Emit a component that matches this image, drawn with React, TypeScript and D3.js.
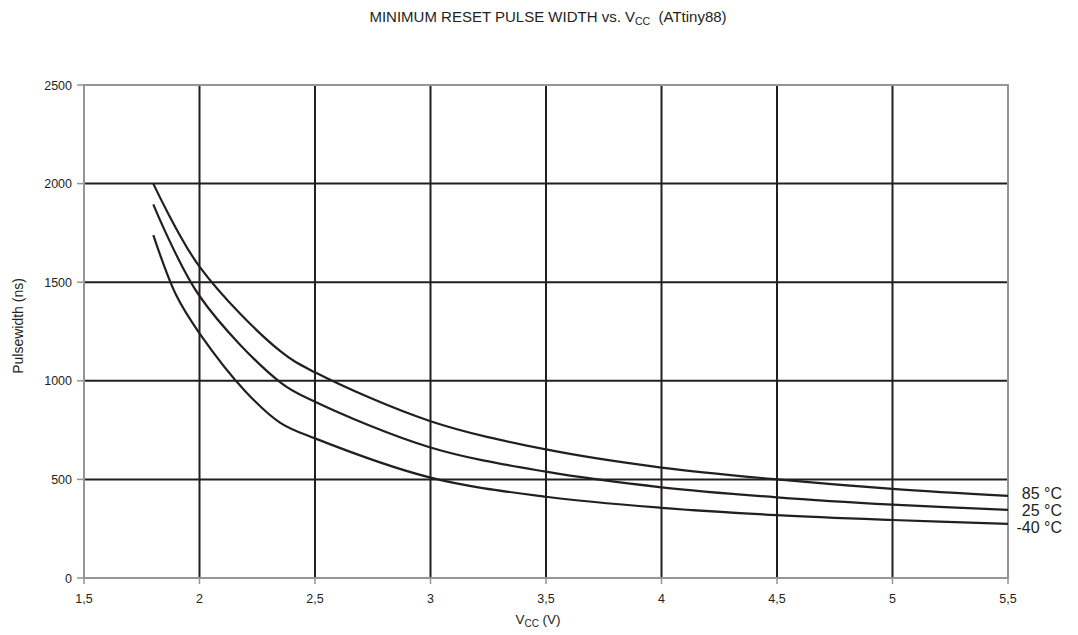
import React from "react";
import * as d3 from "d3";

const xTicks = [1.5, 2, 2.5, 3, 3.5, 4, 4.5, 5, 5.5];
const yTicks = [0, 500, 1000, 1500, 2000, 2500];

const vcc85 = [1.8, 2.0, 2.35, 2.5, 3.0, 3.5, 4.0, 4.5, 5.0, 5.5];
const pw85 = [2000, 1579, 1150, 1043, 795, 652, 560, 500, 452, 416];

const vcc25 = [1.8, 2.0, 2.35, 2.5, 3.0, 3.5, 4.0, 4.5, 5.0, 5.5];
const pw25 = [1895, 1430, 992, 894, 662, 539, 460, 409, 372, 345];

const vccM40 = [1.8, 1.9, 2.0, 2.2, 2.35, 2.5, 3.0, 3.5, 4.0, 4.5, 5.0, 5.5];
const pwM40 = [1739, 1432, 1241, 945, 787, 708, 509, 412, 356, 319, 294, 274];

const seriesNames = ["85 °C", "25 °C", "-40 °C"];

export default function App() {
  const W = 1078, H = 635;
  const x = d3.scaleLinear().domain([1.5, 5.5]).range([84, 1008]);
  const y = d3.scaleLinear().domain([0, 2500]).range([578, 85]);
  const line = d3.line<[number, number]>().x(d => x(d[0])).y(d => y(d[1])).curve(d3.curveCatmullRom.alpha(0.5));
  const series = [
    vcc85.map((v, i) => [v, pw85[i]] as [number, number]),
    vcc25.map((v, i) => [v, pw25[i]] as [number, number]),
    vccM40.map((v, i) => [v, pwM40[i]] as [number, number]),
  ];
  const labelY = [499, 516, 533];
  const dark = "#231f20";
  const frame = "#939598";
  const font = "'Liberation Sans', Arial, sans-serif";
  return (
    <svg width={W} height={H} style={{ position: "absolute", left: 0, top: 0, background: "#fff" }} fontFamily={font}>
      <text x={548} y={22} textAnchor="middle" fontSize={15} fill={dark}>
        MINIMUM RESET PULSE WIDTH vs. V<tspan fontSize={10.5} dy={3}>CC</tspan><tspan dy={-3} xmlSpace="preserve">{"  (ATtiny88)"}</tspan>
      </text>
      {/* grid */}
      {yTicks.filter(t => t > 0 && t < 2500).map(t => (
        <line key={"gy" + t} x1={x(1.5)} x2={x(5.5)} y1={y(t)} y2={y(t)} stroke={dark} strokeWidth={2} />
      ))}
      {xTicks.filter(t => t > 1.5 && t < 5.5).map(t => (
        <line key={"gx" + t} x1={x(t)} x2={x(t)} y1={y(0)} y2={y(2500)} stroke={dark} strokeWidth={2} />
      ))}
      {/* frame */}
      <rect x={x(1.5)} y={y(2500)} width={x(5.5) - x(1.5)} height={y(0) - y(2500)} fill="none" stroke={frame} strokeWidth={2} />
      {/* ticks */}
      {yTicks.map(t => (
        <g key={"yt" + t}>
          <line x1={x(1.5) - 7} x2={x(1.5)} y1={y(t)} y2={y(t)} stroke={frame} strokeWidth={1.5} />
          <text x={x(1.5) - 12} y={y(t) + 4.5} textAnchor="end" fontSize={12.5} fill={dark}>{t}</text>
        </g>
      ))}
      {xTicks.map(t => (
        <g key={"xt" + t}>
          <line x1={x(t)} x2={x(t)} y1={y(0)} y2={y(0) + 6} stroke={frame} strokeWidth={1.5} />
          <text x={x(t)} y={603} textAnchor="middle" fontSize={12.5} fill={dark}>{String(t).replace(".", ",")}</text>
        </g>
      ))}
      {/* curves */}
      {series.map((s, i) => (
        <path key={"s" + i} d={line(s) || ""} fill="none" stroke={dark} strokeWidth={2.2} />
      ))}
      {seriesNames.map((n, i) => (
        <text key={"l" + i} x={1062} y={labelY[i]} textAnchor="end" fontSize={16} fill={dark}>{n}</text>
      ))}
      {/* axis labels */}
      <text x={538} y={624} textAnchor="middle" fontSize={13.5} fill={dark}>
        V<tspan fontSize={10} dy={2.5}>CC</tspan><tspan dy={-2.5}> (V)</tspan>
      </text>
      <text transform={`translate(23,${326}) rotate(-90)`} textAnchor="middle" fontSize={14} fill={dark}>Pulsewidth (ns)</text>
    </svg>
  );
}
